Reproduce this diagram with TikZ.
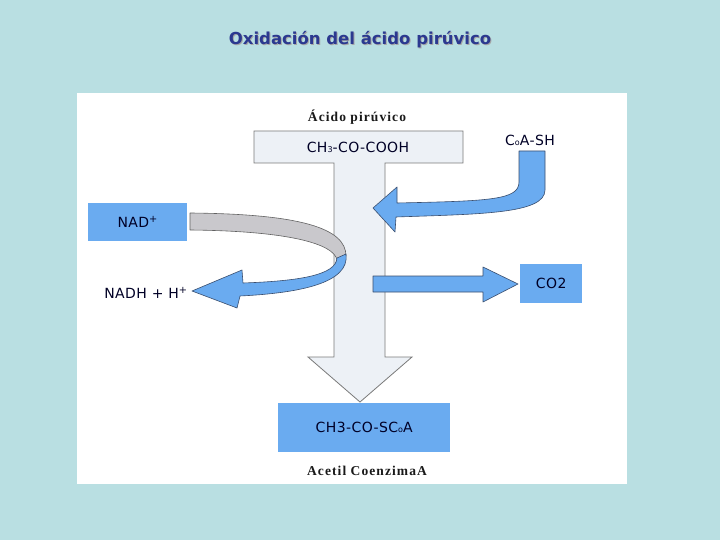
\documentclass[tikz,border=0pt]{standalone}
\usepackage{fontspec}
\setmainfont{Liberation Serif}
\newfontfamily\comic[LetterSpace=3]{DejaVu Sans}
\newfontfamily\comictitle{DejaVu Sans}
\newfontfamily\wideserif[LetterSpace=8]{Liberation Serif}
\definecolor{bg}{HTML}{B9DFE2}
\definecolor{boxblue}{HTML}{6AABF0}
\definecolor{tfill}{HTML}{EDF1F6}
\definecolor{greyband}{HTML}{C9C8CC}
\definecolor{titleblue}{HTML}{2B3990}
\definecolor{edgegrey}{HTML}{7A7A7A}
\definecolor{edgeblue}{HTML}{3A4E6E}
\begin{document}
\begin{tikzpicture}[x=1pt,y=-1pt,
  bluebox/.style={fill=boxblue,draw=none,inner sep=0pt,anchor=north west},
  comiclbl/.style={font=\comic\fontsize{14}{16}\selectfont,text=black!85!blue},
  seriflbl/.style={font=\wideserif\bfseries\fontsize{13.5}{15}\selectfont,text=black!90},
  blockarrow/.style={fill=boxblue,draw=edgeblue,line width=0.6pt,line join=round},
  greyarrow/.style={fill=greyband,draw=edgegrey!80!black,line width=0.6pt,line join=round}]
\useasboundingbox (0,0) rectangle (720,540);
\fill[bg] (0,0) rectangle (720,540);
% title
\node[font=\comictitle\bfseries\fontsize{16.5}{19}\selectfont,text=gray!70] at (361,41) {Oxidación del ácido pirúvico};
\node[font=\comictitle\bfseries\fontsize{16.5}{19}\selectfont,text=titleblue] (title) at (360,40) {Oxidación del ácido pirúvico};
% white panel
\fill[white] (77,93) rectangle (627,484);
% T shaped arrow
\draw[fill=tfill,draw=edgegrey,line width=0.8pt,line join=miter]
  (254,131) -- (463,131) -- (463,163) -- (385,163) -- (385,357) -- (412,357)
  -- (360,402) -- (308,357) -- (334,357) -- (334,163) -- (254,163) -- cycle;
\node[seriflbl] (acido) at (357,117) {Ácido pirúvico};
\node[comiclbl] (pyr) at (358,147) {CH{\footnotesize 3}-CO-COOH};
% product box
\node[bluebox,minimum width=172pt,minimum height=49pt] (acoa) at (278,403) {};
\node[comiclbl] at (acoa.center) {CH3-CO-SC{\footnotesize o}A};
\node[seriflbl] (acetil) at (367,471) {Acetil CoenzimaA};
% NAD box
\node[bluebox,minimum width=99pt,minimum height=38pt] (nad) at (88,203) {};
\node[comiclbl] at (nad.center) {NAD\textsuperscript{+}};
\node[comiclbl] (nadh) at (146,293) {NADH + H\textsuperscript{+}};
% grey band
\draw[greyarrow] (190,213) .. controls (300,214) and (346,228) .. (346,256)
  -- (337,260) .. controls (334,244) and (290,231) .. (190,230) -- cycle;
% blue returning arrow
\draw[blockarrow] (346,254) .. controls (350,283) and (300,293) .. (240,296)
  -- (237,308) -- (192,291) -- (242,270) -- (243,283)
  .. controls (300,281) and (336,275) .. (337,258) -- cycle;
% CoA-SH arrow
\node[comiclbl] (coash) at (530,140) {C{\footnotesize o}A-SH};
\draw[blockarrow] (519,151) -- (545,151) -- (545,190)
  .. controls (545,214) and (480,214) .. (396,217)
  -- (395,232) -- (373,208) -- (397,187) -- (397,203)
  .. controls (490,201) and (519,200) .. (519,182) -- cycle;
% CO2 arrow and box
\node[bluebox,minimum width=62pt,minimum height=39pt] (co2) at (520,264) {};
\node[comiclbl] at (co2.center) {CO2};
\draw[blockarrow] (373,276) -- (483,276) -- (483,267) -- (518,284) -- (483,302)
  -- (483,292) -- (373,292) -- cycle;
\end{tikzpicture}
\end{document}
